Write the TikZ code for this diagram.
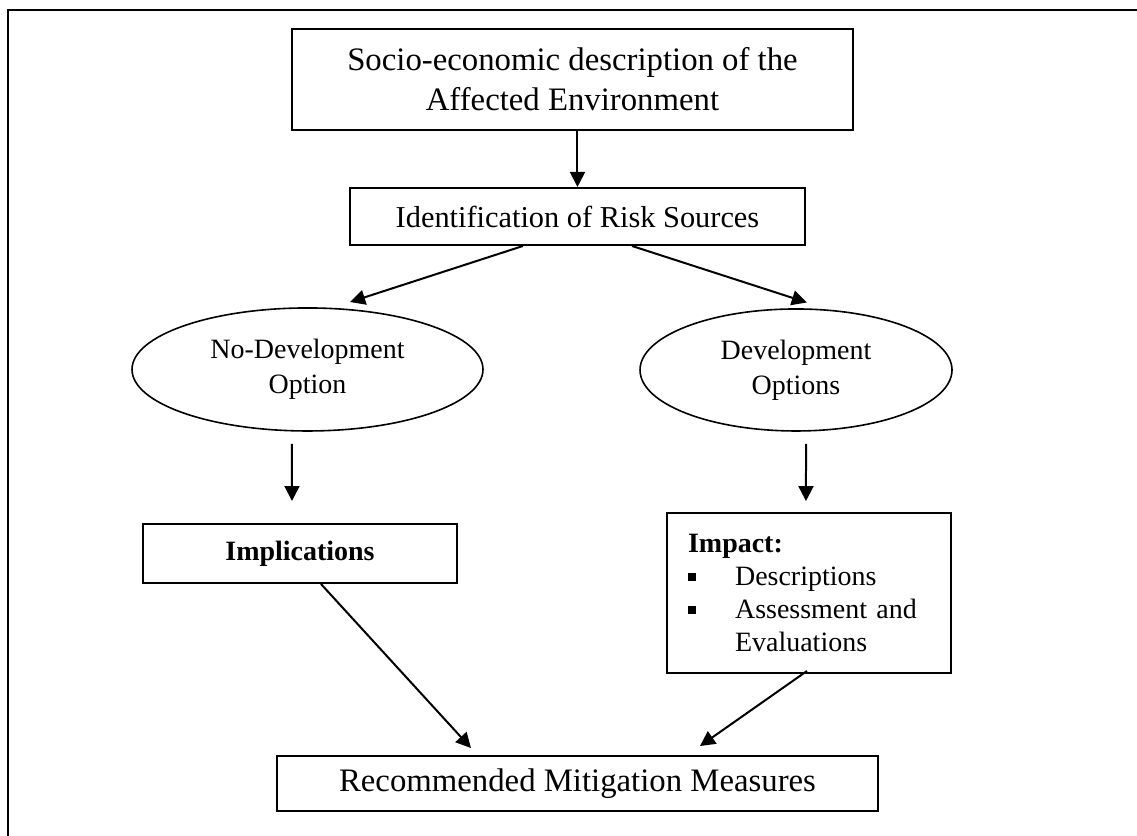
\documentclass[tikz,border=0pt]{standalone}
\usepackage{fontspec}
\setmainfont{Liberation Serif}
\usetikzlibrary{shapes.geometric,arrows.meta}

% square bullet for the impact list
\newcommand{\sqbullet}{\makebox[23.5pt][l]{\raisebox{2.5pt}{\rule{4pt}{4pt}}}}

\begin{document}
\begin{tikzpicture}[->,>={Triangle[length=7.5pt,width=7.5pt]},line width=1pt,
                flow box/.style={rectangle,draw,inner sep=0pt,align=center},
                option node/.style={ellipse,draw,inner sep=0pt,align=center,
                  line width=0.8pt,font=\fontsize{14}{17.5}\selectfont}]

  \useasboundingbox (0,0) rectangle (20,-14.688);
  \draw[-] (0.141,-15) -- (0.141,-0.176) -- (20.5,-0.176);

  \node[flow box,minimum width=9.87cm,minimum height=1.777cm,
        font=\fontsize{16.4}{20}\selectfont] (soc) at (10.07,-1.398)
        {Socio-economic description of the\\Affected Environment};
  \node[flow box,minimum width=8cm,minimum height=1.003cm,
        font=\fontsize{15.2}{18}\selectfont] (risk) at (10.158,-3.808)
        {Identification of Risk Sources};

  \node[option node,minimum width=6.174cm,minimum height=2.164cm] (nodev)
        at (5.409,-6.499) {No-Development\\Option};
  \node[option node,minimum width=5.488cm,minimum height=2.146cm] (dev)
        at (14.002,-6.508) {Development\\Options};

  \node[flow box,minimum width=5.523cm,minimum height=1.038cm,
        font=\fontsize{14}{17}\selectfont\bfseries] (impl) at (5.277,-9.736)
        {Implications};
  \node[flow box,align=left,inner xsep=10.5pt,text width=121pt,
        minimum height=2.814cm,font=\fontsize{14}{16.5}\selectfont] (impact)
        at (14.23,-10.431)
        {\textbf{Impact:}\\
         \sqbullet Descriptions\\
         \sqbullet Assessment and\\
         \hspace*{23.5pt}Evaluations};

  \node[flow box,minimum width=10.572cm,minimum height=0.967cm,
        font=\fontsize{16.4}{20}\selectfont] (mitig) at (10.158,-13.782)
        {Recommended Mitigation Measures};

  \path
    (risk.north |- soc.south) edge (risk.north)
    ([xshift=-0.96cm]risk.south) edge ([xshift=0.75cm,yshift=0.09cm]nodev.north)
    ([xshift=0.96cm]risk.south) edge ([xshift=0.19cm,yshift=0.1cm]dev.north)
    ([xshift=-0.273cm,yshift=-0.211cm]nodev.south)
        edge ([xshift=-0.141cm,yshift=0.387cm]impl.north)
    ([xshift=0.176cm,yshift=-0.211cm]dev.south)
        edge ([xshift=-0.053cm,yshift=0.193cm]impact.north)
    ([xshift=0.369cm]impl.south) edge ([xshift=-1.873cm,yshift=0.123cm]mitig.north)
    ([xshift=-0.035cm,yshift=0.053cm]impact.south)
        edge ([xshift=2.155cm,yshift=0.158cm]mitig.north);
\end{tikzpicture}
\end{document}
